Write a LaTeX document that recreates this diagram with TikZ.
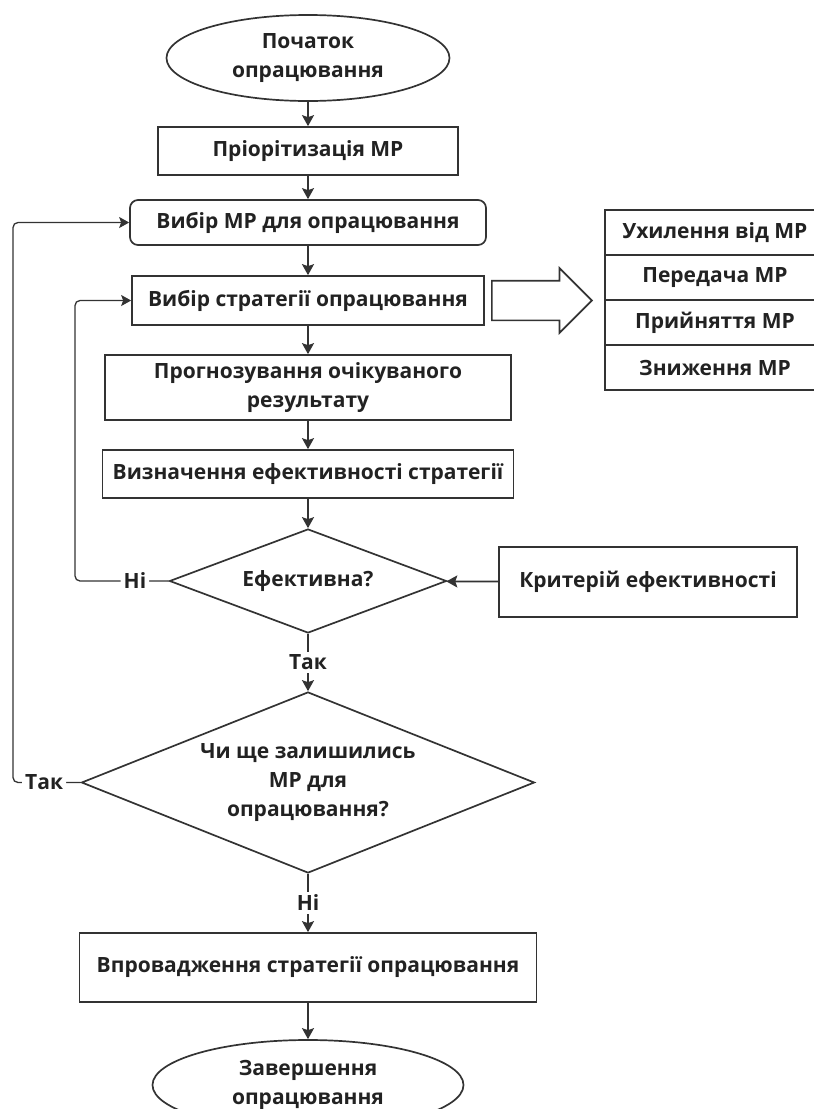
\documentclass[tikz,border=0pt]{standalone}
\usepackage{fontspec}
\setmainfont{Open Sans}
\usetikzlibrary{arrows.meta,shapes.geometric,shapes.arrows}
\definecolor{ink}{HTML}{222222}
\definecolor{edge}{HTML}{333333}
\tikzset{
  base/.style   ={draw=edge, line width=1.7pt, text=ink, align=center,
                  inner sep=0pt, font=\fontsize{21}{29}\selectfont\bfseries},
  term/.style   ={base, ellipse},
  procbox/.style={base, rectangle},
  pickbox/.style={base, rectangle, rounded corners=8pt},
  decis/.style  ={base, diamond},
  optcell/.style={base, rectangle, minimum width=220pt, minimum height=45pt},
  flow/.style   ={-{Stealth[length=11pt, width=12pt, inset=2pt]},
                  line width=1.7pt, edge},
  back/.style   ={-{Stealth[length=10pt, width=11pt, inset=2pt]},
                  line width=1.3pt, edge, rounded corners=5pt},
  lbl/.style    ={fill=white, text=ink, inner sep=3pt,
                  font=\fontsize{21}{29}\selectfont\bfseries},
}
\begin{document}
\begin{tikzpicture}[x=1pt, y=-1pt]
  \useasboundingbox (0,0) rectangle (814,1109);
  \clip (0,0) rectangle (814,1109);
  % main column
  \node[term, minimum width=283pt, minimum height=86pt] (start) at (308,58)
    {Початок\\опрацювання};
  \node[procbox, minimum width=300pt, minimum height=48pt] (prior) at (308,151)
    {Пріорітизація МР};
  \node[pickbox, minimum width=356pt, minimum height=45pt] (pick) at (308,222.5)
    {Вибір МР для опрацювання};
  \node[procbox, minimum width=352pt, minimum height=49pt] (strat) at (308,300.5)
    {Вибір стратегії опрацювання};
  \node[procbox, minimum width=406pt, minimum height=65pt] (fcast) at (308,387.5)
    {Прогнозування очікуваного\\результату};
  \node[procbox, minimum width=411pt, minimum height=48pt] (eff) at (308,474)
    {Визначення ефективності стратегії};
  \node[decis, minimum width=277pt, minimum height=104pt, aspect=2.66] (isok)
    at (308,581) {Ефективна?};
  \node[procbox, minimum width=298pt, minimum height=70pt] (crit) at (648,582)
    {Критерій ефективності};
  \node[decis, minimum width=453pt, minimum height=181pt, aspect=2.5] (more)
    at (308,782.5) {Чи ще залишились\\МР для\\опрацювання?};
  \node[procbox, minimum width=457pt, minimum height=69pt] (impl) at (308,967.5)
    {Впровадження стратегії опрацювання};
  \node[term, minimum width=311pt, minimum height=90pt] (finish) at (308,1085)
    {Завершення\\опрацювання};
  % strategies
  \node[base, single arrow, inner xsep=0pt, inner ysep=19pt,
        minimum height=100pt, single arrow head extend=12.5pt,
        anchor=tail] (bigarr) at (491,300.5) {};
  \node[optcell] (opt1) at (715,232.5) {Ухилення від МР};
  \node[optcell] (opt2) at (715,277.5) {Передача МР};
  \node[optcell] (opt3) at (715,322.5) {Прийняття МР};
  \node[optcell] (opt4) at (715,367.5) {Зниження МР};
  % arrows
  \draw[flow] (start) -- (prior);
  \draw[flow] (prior) -- (pick);
  \draw[flow] (pick) -- (strat);
  \draw[flow] (strat) -- (fcast);
  \draw[flow] (fcast) -- (eff);
  \draw[flow] (eff) -- (isok);
  \draw[flow] (crit) -- (isok);
  \draw[flow] (isok) -- node[lbl] {Так} (more);
  \draw[flow] (more) -- node[lbl] {Ні} (impl);
  \draw[flow] (impl) -- (finish);
  % loops back
  \coordinate (backA) at (75,0);
  \coordinate (backB) at (13,0);
  \draw[back] (isok.west) -- node[lbl, pos=0.36] {Ні} (isok.west -| backA)
    |- (strat.west);
  \draw[back] (more.west) -- node[lbl, pos=0.54] {Так} (more.west -| backB)
    |- (pick.west);
\end{tikzpicture}
\end{document}
